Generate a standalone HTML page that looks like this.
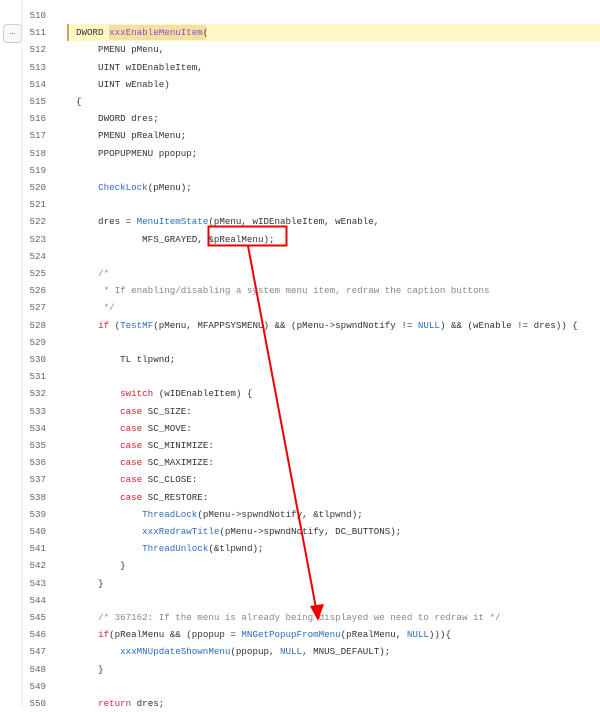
<!DOCTYPE html>
<html><head><meta charset="utf-8"><style>
body{margin:0;width:600px;height:709px;background:#fff;position:relative;overflow:hidden;font-family:"Liberation Mono",monospace;font-size:9.2px;color:#333}
.l{position:absolute;left:0;width:600px;height:17px;line-height:17px;white-space:pre}
.n{position:absolute;left:0;width:46px;text-align:right;color:#666}
.c{position:absolute;left:76px}
.k{color:#cf222e}.f{color:#2f6dbf}.m{color:#888}.v{color:#8250df}
</style></head><body>
<div style="position:absolute;left:67px;top:24px;width:533px;height:17px;background:#fff8c5"></div>
<div style="position:absolute;left:67px;top:24px;width:2px;height:17px;background:#c9a45a"></div>
<div style="position:absolute;left:109px;top:25px;width:97px;height:15px;background:#f5e0a0"></div>
<div style="position:absolute;left:3px;top:24px;width:17px;height:17px;border:1px solid #ccc;border-radius:4px;background:#f6f8fa;font-size:9px;line-height:15px;text-align:center;color:#555">…</div>
<div id="code"></div>
<script>
const L=[
["510",""],
["511",'DWORD <span class="v">xxxEnableMenuItem</span>('],
["512",'    PMENU pMenu,'],
["513",'    UINT wIDEnableItem,'],
["514",'    UINT wEnable)'],
["515",'{'],
["516",'    DWORD dres;'],
["517",'    PMENU pRealMenu;'],
["518",'    PPOPUPMENU ppopup;'],
["519",''],
["520",'    <span class="f">CheckLock</span>(pMenu);'],
["521",''],
["522",'    dres = <span class="f">MenuItemState</span>(pMenu, wIDEnableItem, wEnable,'],
["523",'            MFS_GRAYED, &amp;pRealMenu);'],
["524",''],
["525",'    <span class="m">/*</span>'],
["526",'    <span class="m"> * If enabling/disabling a system menu item, redraw the caption buttons</span>'],
["527",'    <span class="m"> */</span>'],
["528",'    <span class="k">if</span> (<span class="f">TestMF</span>(pMenu, MFAPPSYSMENU) &amp;&amp; (pMenu-&gt;spwndNotify != <span class="f">NULL</span>) &amp;&amp; (wEnable != dres)) {'],
["529",''],
["530",'        TL tlpwnd;'],
["531",''],
["532",'        <span class="k">switch</span> (wIDEnableItem) {'],
["533",'        <span class="k">case</span> SC_SIZE:'],
["534",'        <span class="k">case</span> SC_MOVE:'],
["535",'        <span class="k">case</span> SC_MINIMIZE:'],
["536",'        <span class="k">case</span> SC_MAXIMIZE:'],
["537",'        <span class="k">case</span> SC_CLOSE:'],
["538",'        <span class="k">case</span> SC_RESTORE:'],
["539",'            <span class="f">ThreadLock</span>(pMenu-&gt;spwndNotify, &amp;tlpwnd);'],
["540",'            <span class="f">xxxRedrawTitle</span>(pMenu-&gt;spwndNotify, DC_BUTTONS);'],
["541",'            <span class="f">ThreadUnlock</span>(&amp;tlpwnd);'],
["542",'        }'],
["543",'    }'],
["544",''],
["545",'    <span class="m">/* 367162: If the menu is already being displayed we need to redraw it */</span>'],
["546",'    <span class="k">if</span>(pRealMenu &amp;&amp; (ppopup = <span class="f">MNGetPopupFromMenu</span>(pRealMenu, <span class="f">NULL</span>))){'],
["547",'        <span class="f">xxxMNUpdateShownMenu</span>(ppopup, <span class="f">NULL</span>, MNUS_DEFAULT);'],
["548",'    }'],
["549",''],
["550",'    <span class="k">return</span> dres;']];
let h='';L.forEach((r,i)=>{const t=Math.round(7+i*17.2);h+=`<div class="l" style="top:${t}px"><span class="n">${r[0]}</span><span class="c">${r[1]}</span></div>`});
document.getElementById('code').innerHTML=h;
</script>
<svg style="position:absolute;left:0;top:0" width="600" height="709">
<line x1="22" y1="0" x2="22" y2="709" stroke="#eee" stroke-width="1"/>
<rect x="208.5" y="226.5" width="78" height="19" fill="none" stroke="#e00" stroke-width="2"/>
<line x1="248" y1="246" x2="316" y2="608" stroke="#e00" stroke-width="2"/>
<polygon points="318,621 310,606 324,604" fill="#e00"/>
</svg>
</body></html>
